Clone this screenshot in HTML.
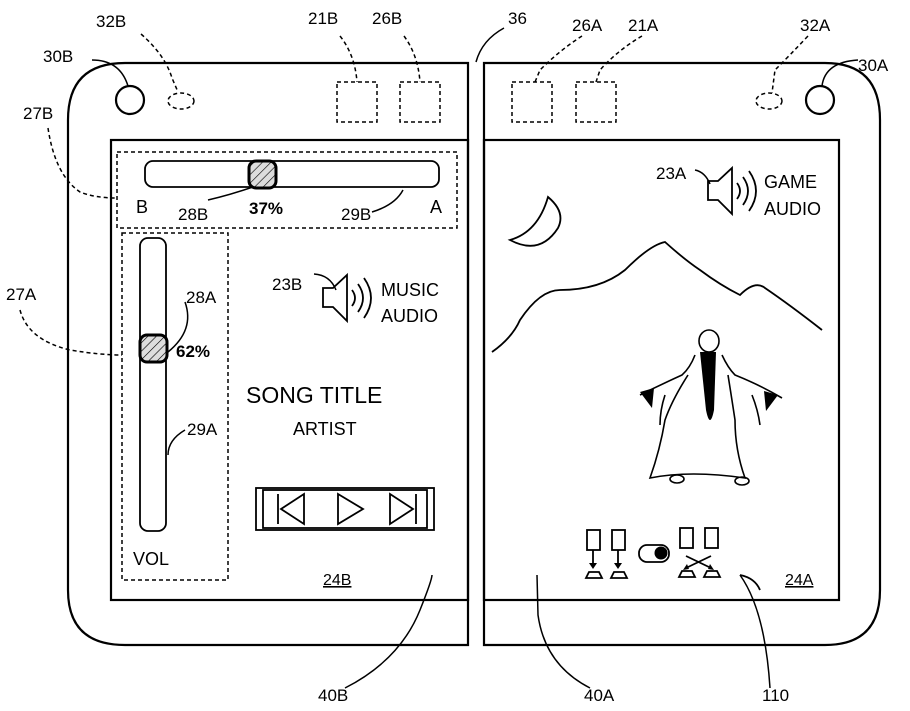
<!DOCTYPE html>
<html><head><style>
body{margin:0;background:#fff}
svg{display:block}
text{font-family:"Liberation Sans",Arial,sans-serif;fill:#000}
</style></head><body>
<svg width="910" height="711" viewBox="0 0 910 711" xmlns="http://www.w3.org/2000/svg">
<defs>
<pattern id="h" width="6" height="6" patternUnits="userSpaceOnUse" patternTransform="rotate(45)">
<rect width="6" height="6" fill="#ddd"/><line x1="0" y1="0" x2="0" y2="6" stroke="#000" stroke-width="1.2"/>
</pattern>
</defs>
<g fill="none" stroke="#000" stroke-width="2.2">
<path d="M468 63 H125 Q68 63 68 120 V590 Q68 645 125 645 H468 Z"/>
<path d="M484 63 H825 Q880 63 880 120 V590 Q880 645 825 645 H484 Z"/>
<rect x="111" y="140" width="357" height="460"/>
<rect x="484" y="140" width="355" height="460"/>
<circle cx="130" cy="100" r="14"/>
<circle cx="820" cy="100" r="14"/>
</g>
<g fill="none" stroke="#000" stroke-width="1.5" stroke-dasharray="4,3">
<ellipse cx="181" cy="101" rx="13" ry="8"/>
<ellipse cx="769" cy="101" rx="13" ry="8"/>
<rect x="337" y="82" width="40" height="40"/>
<rect x="400" y="82" width="40" height="40"/>
<rect x="512" y="82" width="40" height="40"/>
<rect x="576" y="82" width="40" height="40"/>
<rect x="117" y="152" width="340" height="76"/>
<rect x="122" y="233" width="106" height="347"/>
<path d="M141 34 Q165 55 172 78 L178 92"/>
<path d="M340 36 Q355 55 357 82"/>
<path d="M404 36 Q418 55 420 82"/>
<path d="M582 36 Q560 50 540 70 L535 82"/>
<path d="M642 36 Q618 50 600 70 L596 82"/>
<path d="M808 36 Q790 55 775 70 L772 93"/>
<path d="M48 128 Q55 175 80 192 Q95 198 117 198"/>
<path d="M20 310 Q28 340 70 350 Q100 355 122 355"/>
</g>
<g fill="none" stroke="#000" stroke-width="1.5">
<path d="M92 60 Q120 60 128 86"/>
<path d="M858 60 Q825 62 822 86"/>
<path d="M504 28 Q482 40 476 62"/>
<path d="M208 200 Q230 195 256 186"/>
<path d="M372 212 Q395 205 403 190"/>
<path d="M185 302 Q195 330 168 352"/>
<path d="M185 430 Q168 440 168 455"/>
<path d="M314 274 Q330 275 336 290"/>
<path d="M695 170 Q705 172 710 184"/>
<path d="M345 688 Q400 660 420 610 Q432 580 432 575"/>
<path d="M590 688 Q545 665 538 615 L537 575"/>
<path d="M770 688 Q765 610 740 575"/>
<rect x="145" y="161" width="294" height="26" rx="8" stroke-width="1.8"/>
<rect x="140" y="238" width="26" height="293" rx="8" stroke-width="1.8"/>
</g>
<rect x="249" y="161" width="27" height="27" rx="7" fill="url(#h)" stroke="#000" stroke-width="3"/>
<rect x="140" y="335" width="27" height="27" rx="7" fill="url(#h)" stroke="#000" stroke-width="3"/>
<g fill="none" stroke="#000" stroke-width="1.8">
<path d="M323 288 H333 L347 275 V321 L333 307 H323 Z"/>
<path d="M352 290 Q358 298 352 306 M358 284 Q368 298 358 312 M364 278 Q378 298 364 318"/>
<path d="M708 181 H718 L732 168 V214 L718 200 H708 Z"/>
<path d="M737 183 Q743 191 737 199 M743 177 Q753 191 743 205 M749 171 Q763 191 749 211"/>
<rect x="256" y="488" width="178" height="42"/>
<rect x="263" y="490" width="164" height="38"/>
<path d="M278 494 V524 M304 494 L281 509 L304 524 Z"/>
<path d="M338 494 L363 509 L338 524 Z"/>
<path d="M390 494 L413 509 L390 524 Z M416 494 V524"/>
<path d="M492 352 Q512 338 520 320 Q540 290 560 290 Q600 290 625 270 Q650 245 665 242 Q685 260 700 270 Q720 285 740 295 Q755 280 765 288 Q790 305 822 330"/>
<rect x="587" y="530" width="13" height="20"/><rect x="612" y="530" width="13" height="20"/>
<rect x="680" y="528" width="13" height="20"/><rect x="705" y="528" width="13" height="20"/>
<rect x="639" y="545" width="30" height="17" rx="8"/>
<path d="M593 550 V565 M618 550 V565"/>
<path d="M589 572 h10 l3 6 h-16 z M614 572 h10 l3 6 h-16 z M682 571 h10 l3 6 h-16 z M707 571 h10 l3 6 h-16 z"/>
<path d="M686 556 L711 568 M711 556 L686 568"/>
<path d="M740 575 Q755 578 760 590"/>
</g>
<circle cx="661" cy="553" r="6.5" fill="#000"/>
<g fill="#000">
<path d="M589 563 l4 6 l4 -6 z M614 563 l4 6 l4 -6 z"/>
<path d="M683 570 l6 -1 l-2 -5 z M714 570 l-6 -1 l2 -5 z"/>
<path d="M548 197 Q538 232 510 240 Q540 256 558 228 Q566 212 548 197 Z" fill="none" stroke="#000" stroke-width="1.8"/>
<ellipse cx="709" cy="341" rx="10" ry="11" fill="none" stroke="#000" stroke-width="1.6"/>
<path d="M700 352 L716 352 L714 410 Q710 430 706 410 Z"/>
</g>
<g fill="none" stroke="#000" stroke-width="1.6">
<path d="M695 355 Q690 368 682 375 Q660 385 640 395 M722 355 Q728 368 735 375 Q760 385 782 398"/>
<path d="M688 375 Q672 400 665 420 Q660 450 650 478 Q690 470 745 478 Q735 450 735 420 Q732 400 728 375"/>
<path d="M665 395 Q660 410 660 425 M752 395 Q758 410 760 425"/>
<ellipse cx="677" cy="479" rx="7" ry="4"/><ellipse cx="742" cy="481" rx="7" ry="4"/>
</g>
<g fill="#000">
<path d="M640 392 l14 -4 l-2 20 z M778 395 l-14 -4 l2 20 z"/>
</g>
<g font-size="18">
<text x="96" y="27" font-size="17">32B</text>
<text x="43" y="62" font-size="17">30B</text>
<text x="23" y="119" font-size="17">27B</text>
<text x="6" y="300" font-size="17">27A</text>
<text x="308" y="24" font-size="17">21B</text>
<text x="372" y="24" font-size="17">26B</text>
<text x="508" y="24" font-size="17">36</text>
<text x="572" y="31" font-size="17">26A</text>
<text x="628" y="31" font-size="17">21A</text>
<text x="800" y="31" font-size="17">32A</text>
<text x="858" y="71" font-size="17">30A</text>
<text x="136" y="213">B</text>
<text x="430" y="213">A</text>
<text x="178" y="220" font-size="17">28B</text>
<text x="249" y="214" font-size="17" font-weight="bold">37%</text>
<text x="341" y="220" font-size="17">29B</text>
<text x="186" y="303" font-size="17">28A</text>
<text x="176" y="357" font-size="17" font-weight="bold">62%</text>
<text x="187" y="435" font-size="17">29A</text>
<text x="133" y="565">VOL</text>
<text x="272" y="290" font-size="17">23B</text>
<text x="381" y="296">MUSIC</text>
<text x="381" y="322">AUDIO</text>
<text x="656" y="179" font-size="17">23A</text>
<text x="764" y="188">GAME</text>
<text x="764" y="215">AUDIO</text>
<text x="246" y="403" font-size="23">SONG TITLE</text>
<text x="293" y="435">ARTIST</text>
<text x="323" y="585" font-size="16" text-decoration="underline">24B</text>
<text x="785" y="585" font-size="16" text-decoration="underline">24A</text>
<text x="318" y="701" font-size="17">40B</text>
<text x="584" y="701" font-size="17">40A</text>
<text x="762" y="701" font-size="17">110</text>
</g>
</svg>
</body></html>
